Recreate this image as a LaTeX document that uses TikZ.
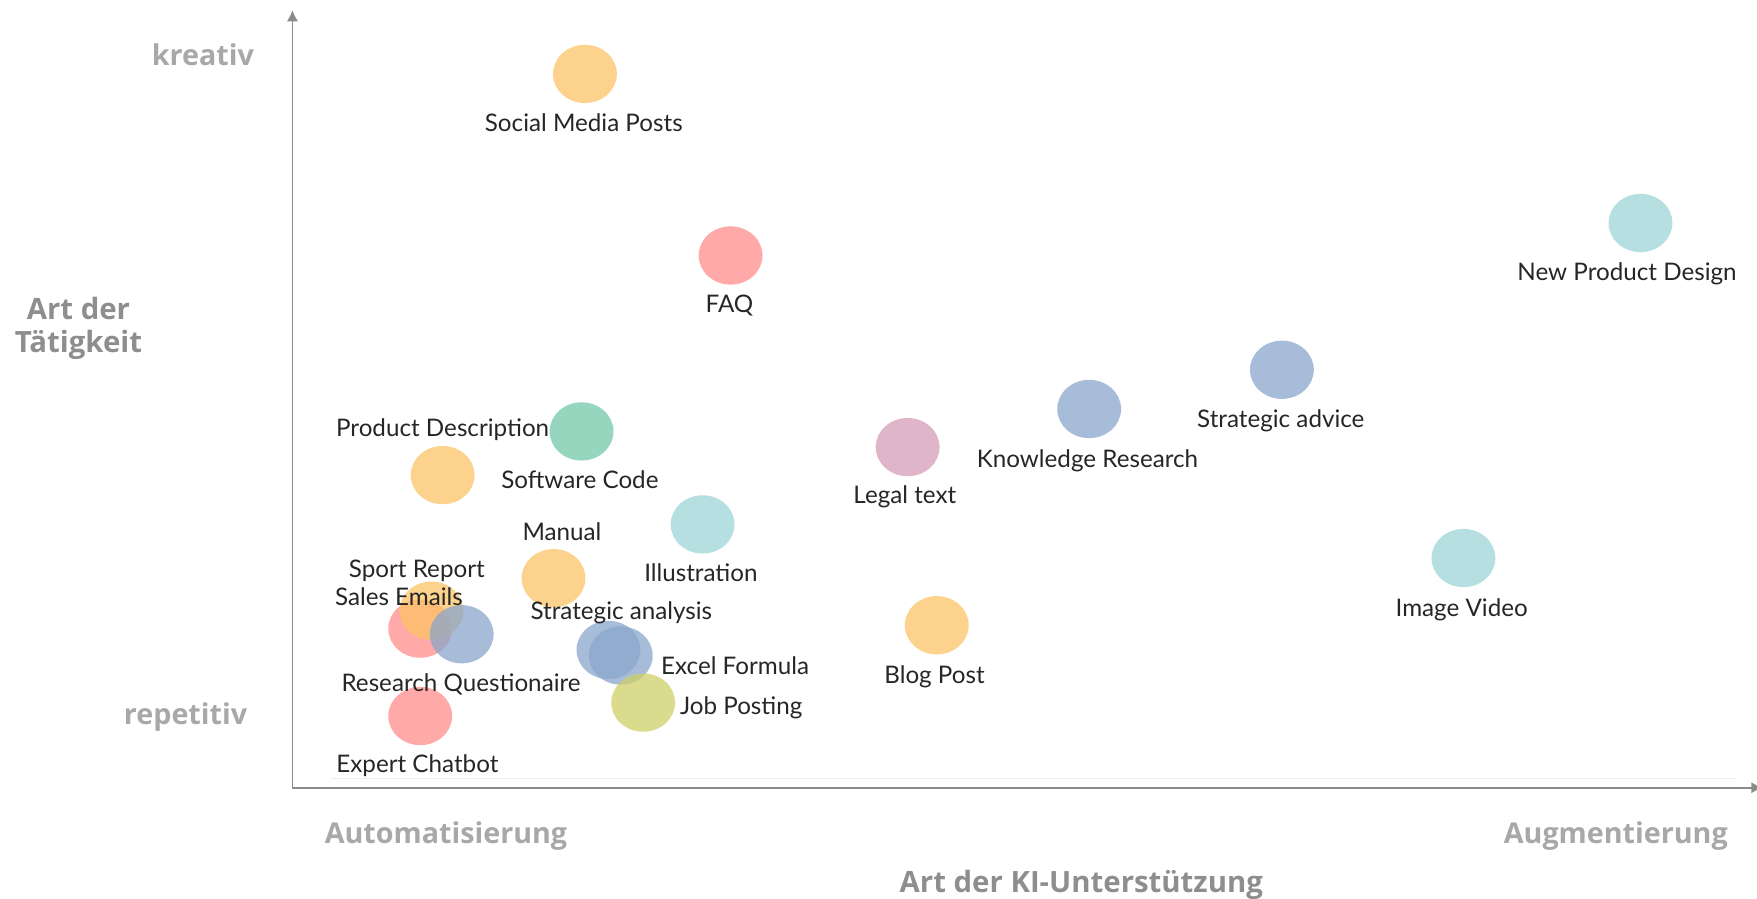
\documentclass[tikz,border=0pt]{standalone}
\usepackage{fontspec}
\setmainfont{Lato}
\newfontfamily\axisfont{Open Sans}
\usetikzlibrary{shapes.geometric,arrows.meta}
\definecolor{cOrange}{HTML}{FCC366}
\definecolor{cRed}{HTML}{FF8E8B}
\definecolor{cBlue}{HTML}{8AA6CC}
\definecolor{cTeal}{HTML}{9ED4D7}
\definecolor{cGreen}{HTML}{74C8A8}
\definecolor{cPink}{HTML}{D49EB7}
\definecolor{cYellow}{HTML}{CECF67}
\definecolor{axisgray}{HTML}{8A8A8A}
\definecolor{ticklbl}{HTML}{A8A8A8}
\definecolor{titlelbl}{HTML}{8E8E8E}
\definecolor{gridgray}{HTML}{EFEFEF}
\tikzset{
  dot/.style={ellipse, inner sep=0pt, minimum width=28.5pt, minimum height=26pt, fill=#1, fill opacity=0.75, draw=none},
  lbl/.style={inner sep=0pt, text height=0.72em, text depth=0pt, font=\fontsize{10.8}{13}\selectfont, text=black!85},
  ticktxt/.style={inner sep=0pt, text height=0.72em, text depth=0pt, font=\axisfont\bfseries\fontsize{12.8}{15}\selectfont, text=ticklbl},
  titletxt/.style={inner sep=0pt, align=center, font=\axisfont\bfseries\fontsize{13.1}{14.6}\selectfont, text=titlelbl},
  axisline/.style={draw=axisgray, line width=0.8pt}
}
\begin{document}
\begin{tikzpicture}[x=0.5pt, y=-0.5pt]
\useasboundingbox (0,0) rectangle (1568,802);
% axes
\coordinate (origin) at (261,703);
\coordinate (ytip) at (261,9);
\coordinate (xtip) at (1573,703);
\coordinate (gridL) at (295,695);
\coordinate (gridR) at (1549,695);
\draw[draw=gridgray, line width=0.6pt] (gridL) -- (gridR);
\draw[axisline, -{Latex[length=5pt,width=5pt]}] (origin) -- (ytip);
\draw[axisline, -{Latex[length=5pt,width=5pt]}] (origin) -- (xtip);
% axis labels
\node[ticktxt, anchor=east] (kreativ) at (227,51.5) {kreativ};
\node[ticktxt, anchor=east] (repetitiv) at (221,639.5) {repetitiv};
\node[ticktxt] (auto) at (398,746) {Automatisierung};
\node[ticktxt] (augm) at (1442,746) {Augmentierung};
\node[titletxt] (ytitle) at (70,293) {Art der\\Tätigkeit};
\node[titletxt] (xtitle) at (965,789.5) {Art der KI-Unterstützung};
% circles
\node[dot=cOrange] (smp) at (522,66) {};
\node[dot=cRed] (faq) at (652,228) {};
\node[dot=cTeal] (npd) at (1464,199) {};
\node[dot=cBlue] (sadv) at (1144,330) {};
\node[dot=cBlue] (know) at (972,365) {};
\node[dot=cPink] (legal) at (810,399) {};
\node[dot=cGreen] (soft) at (519,385) {};
\node[dot=cOrange] (pdesc) at (395,424) {};
\node[dot=cTeal] (illu) at (627,468) {};
\node[dot=cOrange] (manual) at (494,516) {};
\node[dot=cTeal] (imgv) at (1306,498) {};
\node[dot=cOrange] (blog) at (836,558) {};
\node[dot=cRed] (sales) at (375,561) {};
\node[dot=cOrange] (sport) at (385,545) {};
\node[dot=cBlue] (resq) at (412,566) {};
\node[dot=cBlue] (stratan) at (543,580) {};
\node[dot=cBlue] (excel) at (554,585) {};
\node[dot=cYellow] (job) at (574,627) {};
\node[dot=cRed] (chat) at (375,639) {};
% labels
\node[lbl] (lsmp) at (521,110) {Social Media Posts};
\node[lbl] (lfaq) at (651,272) {FAQ};
\node[lbl] (lnpd) at (1452,243) {New Product Design};
\node[lbl] (lsadv) at (1143,374) {Strategic advice};
\node[lbl] (lknow) at (970.5,410) {Knowledge Research};
\node[lbl] (llegal) at (807.5,442) {Legal text};
\node[lbl] (lpdesc) at (395,382) {Product Description};
\node[lbl] (lsoft) at (517.5,429) {Software Code};
\node[lbl] (lmanual) at (501.5,475) {Manual};
\node[lbl] (lillu) at (625.5,512) {Illustration};
\node[lbl] (lsport) at (372,508) {Sport Report};
\node[lbl] (lsales) at (356,533) {Sales Emails};
\node[lbl] (lstratan) at (554.5,546) {Strategic analysis};
\node[lbl] (limgv) at (1304.5,543) {Image Video};
\node[lbl] (lexcel) at (656,595) {Excel Formula};
\node[lbl] (lblog) at (834,603) {Blog Post};
\node[lbl] (lresq) at (411.5,610) {Research Questionaire};
\node[lbl] (ljob) at (661.5,630) {Job Posting};
\node[lbl] (lchat) at (372.5,682) {Expert Chatbot};
\end{tikzpicture}
\end{document}
